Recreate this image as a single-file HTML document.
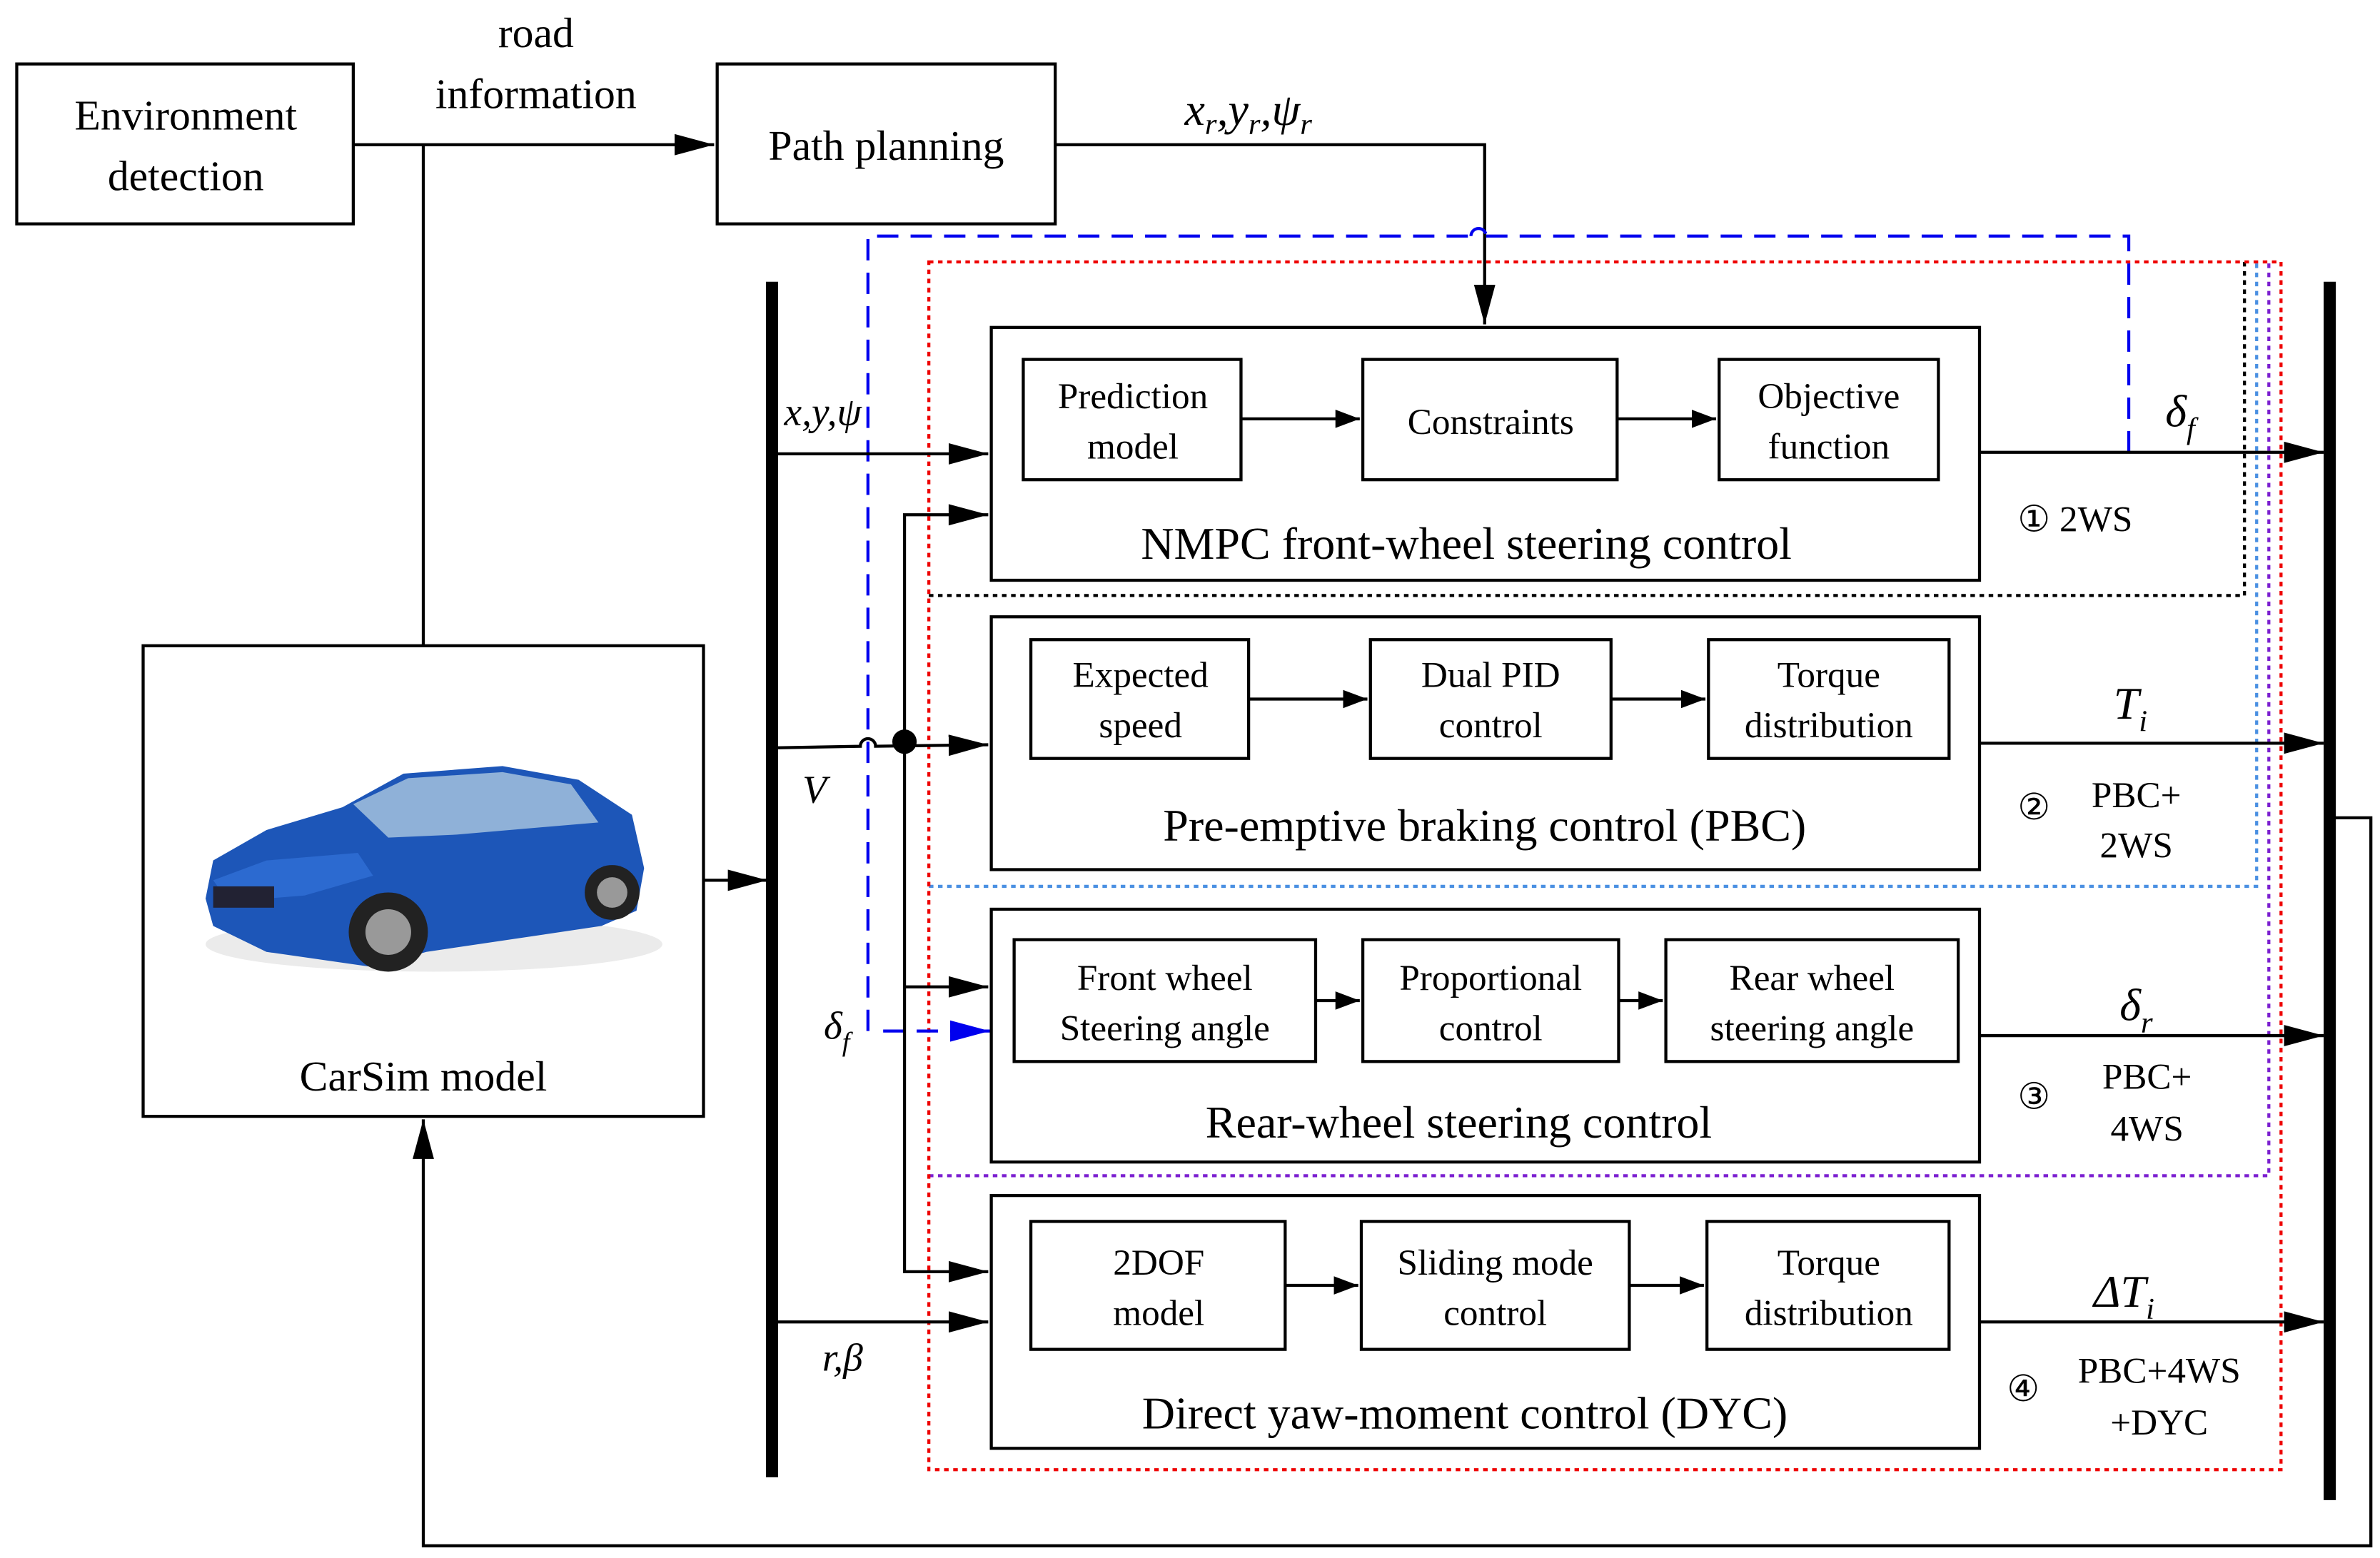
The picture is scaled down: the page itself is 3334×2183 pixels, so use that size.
<!DOCTYPE html>
<html><head><meta charset="utf-8"><style>
html,body{margin:0;padding:0;background:#fff;}
svg{display:block;}
text{font-family:"Liberation Serif",serif;fill:#000;}
</style></head><body>
<svg width="3334" height="2183" viewBox="0 0 1563 1023" preserveAspectRatio="none" xmlns="http://www.w3.org/2000/svg">
<defs>
<marker id="a" markerWidth="12" markerHeight="10" refX="12" refY="5" orient="auto" markerUnits="userSpaceOnUse"><path d="M0,0 L12,5 L0,10 z" fill="#000"/></marker>
<marker id="ab" markerWidth="26" markerHeight="14" refX="26" refY="7" orient="auto" markerUnits="userSpaceOnUse"><path d="M0,0 L26,7 L0,14 z" fill="#000"/></marker>
<marker id="abl" markerWidth="26" markerHeight="14" refX="26" refY="7" orient="auto" markerUnits="userSpaceOnUse"><path d="M0,0 L26,7 L0,14 z" fill="#0000ee"/></marker>
<marker id="as" markerWidth="16" markerHeight="12" refX="16" refY="6" orient="auto" markerUnits="userSpaceOnUse"><path d="M0,0 L16,6 L0,12 z" fill="#000"/></marker>
</defs>
<g fill="none" stroke="#000" stroke-width="2">
<!-- top boxes -->
<rect x="11" y="42" width="221" height="105"/>
<rect x="471" y="42" width="222" height="105"/>
<line x1="232" y1="95" x2="469" y2="95" marker-end="url(#ab)"/>
<line x1="278" y1="95" x2="278" y2="424"/>
<polyline points="693,95 975,95 975,213" marker-end="url(#ab)"/>
<!-- carsim -->
<rect x="94" y="424" width="368" height="309"/>
<line x1="462" y1="578" x2="504" y2="578" marker-end="url(#ab)"/>
<polyline points="1530,537 1557,537 1557,1015 278,1015 278,735" marker-end="url(#ab)"/>
<!-- buses -->
<line x1="507" y1="185" x2="507" y2="970" stroke-width="8"/>
<line x1="1530" y1="185" x2="1530" y2="985" stroke-width="8"/>
</g>
<!-- dotted regions -->
<g fill="none" stroke-width="2" stroke-dasharray="3,3">
<polyline points="610,391 1474,391 1474,172" stroke="#000"/>
<polyline points="610,582 1482,582 1482,172" stroke="#4a90e2"/>
<polyline points="610,772 1490,772 1490,172" stroke="#7b1fd0"/>
<rect x="610" y="172" width="888" height="793" stroke="#e00"/>
</g>
<!-- blue dashed -->
<g fill="none" stroke="#0000ee" stroke-width="2" stroke-dasharray="14,8">
<polyline points="570,677 570,155 966,155"/>
<path d="M966,155 a5,5 0 0 1 10,0"/>
<polyline points="976,155 1398,155 1398,297"/>
<line x1="580" y1="677" x2="650" y2="677" marker-end="url(#abl)"/>
</g>
<!-- controller boxes -->
<g fill="#fff" stroke="#000" stroke-width="2">
<rect x="651" y="215" width="649" height="166" fill="none"/>
<rect x="672" y="236" width="143" height="79"/><rect x="895" y="236" width="167" height="79"/><rect x="1129" y="236" width="144" height="79"/>
<rect x="651" y="405" width="649" height="166" fill="none"/>
<rect x="677" y="420" width="143" height="78"/><rect x="900" y="420" width="158" height="78"/><rect x="1122" y="420" width="158" height="78"/>
<rect x="651" y="597" width="649" height="166" fill="none"/>
<rect x="666" y="617" width="198" height="80"/><rect x="895" y="617" width="168" height="80"/><rect x="1094" y="617" width="192" height="80"/>
<rect x="651" y="785" width="649" height="166" fill="none"/>
<rect x="677" y="802" width="167" height="84"/><rect x="894" y="802" width="176" height="84"/><rect x="1121" y="802" width="159" height="84"/>
</g>
<g fill="none" stroke="#000" stroke-width="2">
<line x1="815" y1="275" x2="893" y2="275" marker-end="url(#as)"/>
<line x1="1062" y1="275" x2="1127" y2="275" marker-end="url(#as)"/>
<line x1="820" y1="459" x2="898" y2="459" marker-end="url(#as)"/>
<line x1="1058" y1="459" x2="1120" y2="459" marker-end="url(#as)"/>
<line x1="864" y1="657" x2="893" y2="657" marker-end="url(#as)"/>
<line x1="1063" y1="657" x2="1092" y2="657" marker-end="url(#as)"/>
<line x1="844" y1="844" x2="892" y2="844" marker-end="url(#as)"/>
<line x1="1070" y1="844" x2="1119" y2="844" marker-end="url(#as)"/>
<!-- outputs -->
<line x1="1300" y1="297" x2="1526" y2="297" marker-end="url(#ab)"/>
<line x1="1300" y1="488" x2="1526" y2="488" marker-end="url(#ab)"/>
<line x1="1300" y1="680" x2="1526" y2="680" marker-end="url(#ab)"/>
<line x1="1300" y1="868" x2="1526" y2="868" marker-end="url(#ab)"/>
<!-- inputs -->
<line x1="511" y1="298" x2="649" y2="298" marker-end="url(#ab)"/>
<path d="M511,491 L565,490 a5,5 0 0 1 10,0 L649,489" marker-end="url(#ab)"/>
<polyline points="649,338 594,338 594,835 649,835" marker-end="url(#ab)"/>
<line x1="594" y1="648" x2="649" y2="648" marker-end="url(#ab)"/>
<line x1="511" y1="868" x2="649" y2="868" marker-end="url(#ab)"/>
</g>
<line x1="649" y1="338" x2="649" y2="338"/>
<polygon points="623,331 649,338 623,345" fill="#000"/>
<circle cx="594" cy="487" r="8" fill="#000"/>
<!-- car -->
<g>
<ellipse cx="285" cy="620" rx="150" ry="18" fill="#ddd" opacity="0.6"/>
<path d="M135,590 L140,565 L175,545 L225,530 L265,508 L330,503 L380,512 L415,535 L423,570 L418,598 L395,608 L280,625 L245,635 L175,625 L140,608 Z" fill="#1d56b8"/>
<path d="M232,528 L268,511 L330,507 L375,515 L393,540 L300,548 L255,550 Z" fill="#8fb1d8"/>
<path d="M140,578 L175,565 L235,560 L245,575 L200,588 L150,592 Z" fill="#2c6ad0"/>
<rect x="140" y="582" width="40" height="14" fill="#223" />
<circle cx="255" cy="612" r="26" fill="#222"/><circle cx="255" cy="612" r="15" fill="#999"/>
<circle cx="402" cy="586" r="18" fill="#222"/><circle cx="402" cy="586" r="10" fill="#999"/>
</g>
<!-- text -->
<g font-size="28" text-anchor="middle">
<text x="122" y="85">Environment</text><text x="122" y="125">detection</text>
<text x="352" y="31">road</text><text x="352" y="71">information</text>
<text x="582" y="105">Path planning</text>
<text x="278" y="716">CarSim model</text>
</g>
<g font-size="30" text-anchor="middle">
<text x="963" y="367">NMPC front-wheel steering control</text>
<text x="975" y="552">Pre-emptive braking control (PBC)</text>
<text x="958" y="747">Rear-wheel steering control</text>
<text x="962" y="938">Direct yaw-moment control (DYC)</text>
</g>
<g font-size="24" text-anchor="middle">
<text x="744" y="268">Prediction</text><text x="744" y="301">model</text>
<text x="979" y="285">Constraints</text>
<text x="1201" y="268">Objective</text><text x="1201" y="301">function</text>
<text x="749" y="451">Expected</text><text x="749" y="484">speed</text>
<text x="979" y="451">Dual PID</text><text x="979" y="484">control</text>
<text x="1201" y="451">Torque</text><text x="1201" y="484">distribution</text>
<text x="765" y="650">Front wheel</text><text x="765" y="683">Steering angle</text>
<text x="979" y="650">Proportional</text><text x="979" y="683">control</text>
<text x="1190" y="650">Rear wheel</text><text x="1190" y="683">steering angle</text>
<text x="761" y="837">2DOF</text><text x="761" y="870">model</text>
<text x="982" y="837">Sliding mode</text><text x="982" y="870">control</text>
<text x="1201" y="837">Torque</text><text x="1201" y="870">distribution</text>
</g>
<g font-size="24">
<text x="1325" y="349">① 2WS</text>
<text x="1325" y="538">②</text><text x="1403" y="530" text-anchor="middle">PBC+</text><text x="1403" y="563" text-anchor="middle">2WS</text>
<text x="1325" y="728">③</text><text x="1410" y="715" text-anchor="middle">PBC+</text><text x="1410" y="749" text-anchor="middle">4WS</text>
<text x="1318" y="920">④</text><text x="1418" y="908" text-anchor="middle">PBC+4WS</text><text x="1418" y="942" text-anchor="middle">+DYC</text>
</g>
<g font-style="italic" font-size="30">
<text x="778" y="82">x<tspan font-size="20" dy="6">r</tspan><tspan dy="-6">,y</tspan><tspan font-size="20" dy="6">r</tspan><tspan dy="-6">,ψ</tspan><tspan font-size="20" dy="6">r</tspan></text>
<text x="1422" y="280">δ<tspan font-size="20" dy="8">f</tspan></text>
<text x="1388" y="472">T<tspan font-size="20" dy="8">i</tspan></text>
<text x="1392" y="670">δ<tspan font-size="20" dy="8">r</tspan></text>
<text x="1375" y="858">ΔT<tspan font-size="20" dy="8">i</tspan></text>
</g>
<g font-style="italic" font-size="26">
<text x="515" y="279">x,y,ψ</text>
<text x="527" y="527">V</text>
<text x="541" y="682">δ<tspan font-size="18" dy="8">f</tspan></text>
<text x="540" y="900">r,β</text>
</g>
</svg>
</body></html>
